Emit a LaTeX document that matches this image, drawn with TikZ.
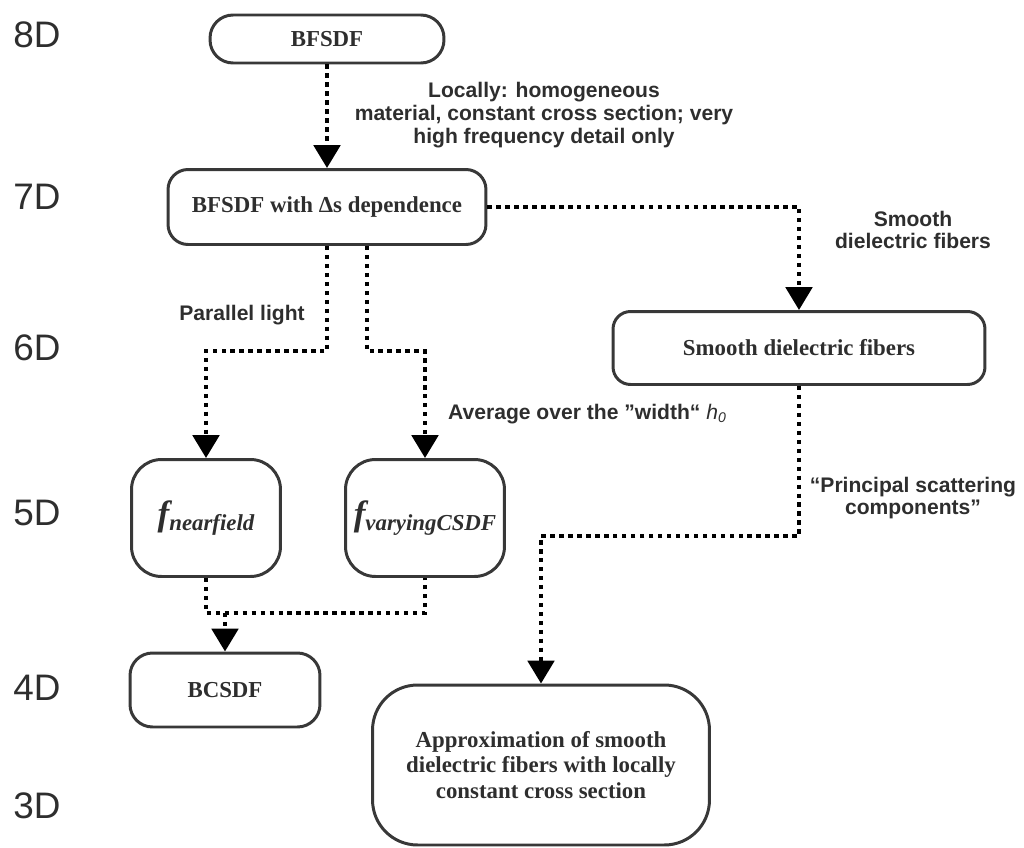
\documentclass[tikz,border=0pt]{standalone}
\usepackage{fontspec}
\setmainfont{Liberation Serif}
\setsansfont{Liberation Sans}
\usetikzlibrary{arrows.meta}
\usetikzlibrary{calc}
\definecolor{boxline}{HTML}{383838}
\definecolor{boxtext}{HTML}{2E2E2E}

\begin{document}
\begin{tikzpicture}[x=0.02cm, y=-0.02cm,
    box/.style={draw=boxline, line width=1.7pt, text=boxtext, align=center, inner sep=0pt, font=\fontsize{13}{14.7}\selectfont\bfseries},
    dotline/.style={line width=2.3pt, dash pattern=on 2.5pt off 2.6pt},
    conn/.style={dotline, -{Triangle[width=15pt,length=13pt]}},
    lbl/.style={text=boxtext, align=center, font=\sffamily\bfseries\fontsize{12}{13}\selectfont},
    dimlbl/.style={text=boxtext, font=\sffamily\fontsize{21}{24}\selectfont}]

\useasboundingbox (0,0) rectangle (1024,848);

\foreach \d/\y in {8/35,7/197,6/348,5/513,4/688,3/806}
    \node[dimlbl] (dim\d) at (37,\y) {\d D};

\node[box, minimum width=4.68cm, minimum height=0.96cm, rounded corners=0.46cm] (bfsdf) at (327,39) {BFSDF};
\node[box, minimum width=6.36cm, minimum height=1.5cm, rounded corners=0.4cm] (mid) at (327,207) {BFSDF with Δs dependence};
\node[box, minimum width=7.44cm, minimum height=1.46cm, rounded corners=0.35cm] (smooth) at (799,348) {Smooth dielectric fibers};
\node[box, minimum width=2.98cm, minimum height=2.34cm, rounded corners=0.6cm] (fnear) at (206,518) {{\itshape\fontsize{20}{20}\selectfont f}{\itshape\fontsize{13}{13}\selectfont\raisebox{-3pt}{nearfield}}};
\node[box, minimum width=3.18cm, minimum height=2.34cm, rounded corners=0.6cm] (fvar) at (425,518) {{\itshape\fontsize{20}{20}\selectfont f}{\itshape\fontsize{13}{13}\selectfont\raisebox{-3pt}{varyingCSDF}}};
\node[box, minimum width=3.8cm, minimum height=1.48cm, rounded corners=0.45cm] (bcsdf) at (225,690) {BCSDF};
\node[box, minimum width=6.74cm, minimum height=3.2cm, rounded corners=0.9cm] (approx) at (541,765) {Approximation of smooth\\dielectric fibers with locally\\constant cross section};

\draw[conn] (bfsdf) -- (mid);
\draw[conn] (mid.east) -| (smooth.north);
\draw[conn] (mid.south) -- ++(0,105) -| (fnear.north);
\draw[conn] ($(mid.south)+(40,0)$) -- ++(0,105) -| (fvar.north);
\coordinate (merge) at (225,613);
\draw[dotline] (fnear.south) |- (merge) -| (fvar.south);
\draw[conn] (merge) -- (bcsdf.north);
\draw[conn] (smooth.south) -- ++(0,150) -| (approx.north);

\node[lbl] (locally) at (544,115) {Locally: homogeneous\\material, constant cross section; very\\high frequency detail only};
\node[lbl] (smoothlbl) at (913,230) {Smooth\\dielectric fibers};
\node[lbl] (parallel) at (242,315) {Parallel light};
\node[lbl, anchor=west] (average) at (442,414) {Average over the ”width“ {\mdseries\itshape h\textsubscript{0}}};
\node[lbl] (principal) at (913,498) {“Principal scattering\\components”};

\end{tikzpicture}
\end{document}
